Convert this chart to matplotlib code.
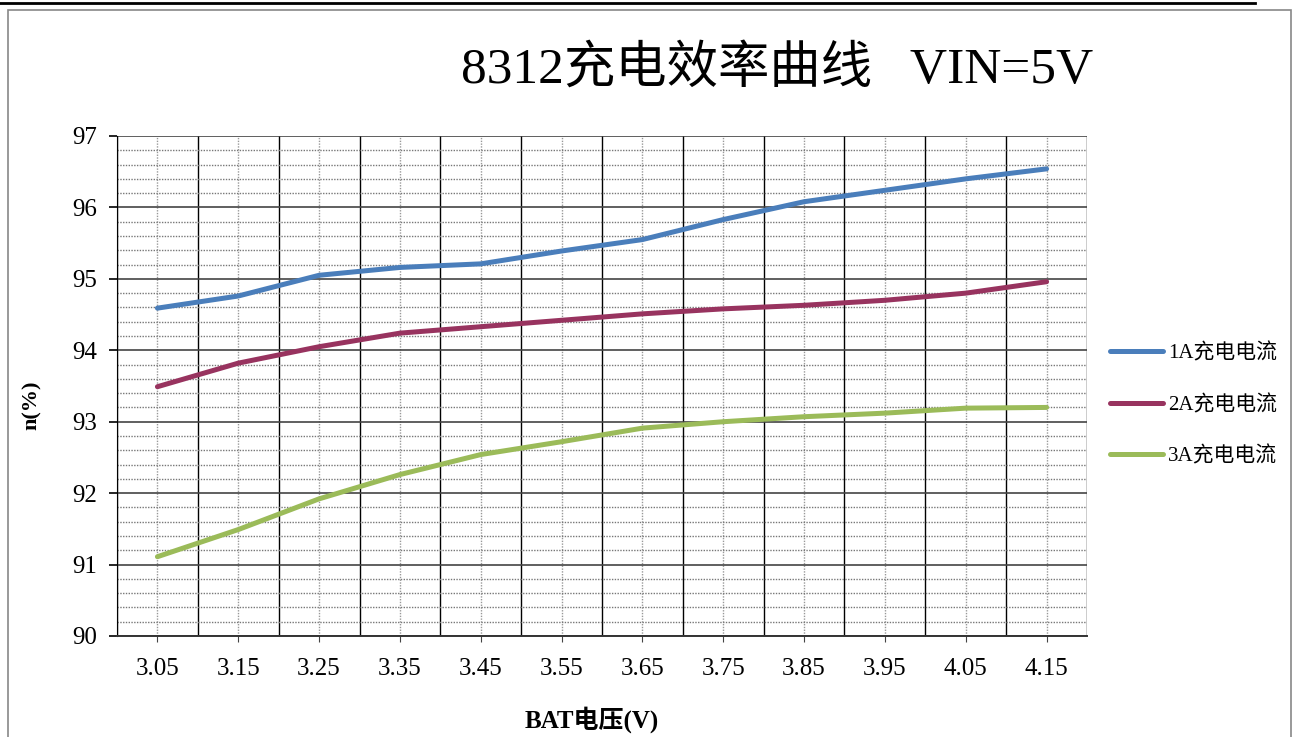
import numpy as np
import matplotlib.pyplot as plt
from matplotlib.ticker import MultipleLocator, FixedLocator
from matplotlib.lines import Line2D
from matplotlib.patches import Rectangle

# battery voltage categories (V)
bat_v = ["3.05", "3.15", "3.25", "3.35", "3.45", "3.55",
         "3.65", "3.75", "3.85", "3.95", "4.05", "4.15"]

# efficiency (%)
eff_1a = [94.59, 94.76, 95.05, 95.16, 95.21, 95.39, 95.55, 95.83, 96.08, 96.24, 96.40, 96.54]
eff_2a = [93.49, 93.82, 94.05, 94.24, 94.33, 94.42, 94.51, 94.58, 94.63, 94.70, 94.80, 94.96]
eff_3a = [91.11, 91.49, 91.92, 92.26, 92.54, 92.72, 92.91, 93.00, 93.07, 93.12, 93.19, 93.20]

series_names = ["1A充电电流", "2A充电电流", "3A充电电流"]
colors = ["#4A7EBB", "#98335F", "#9BBB59"]

FONT = ["Liberation Serif", "Noto Sans CJK SC", "DejaVu Sans"]
plt.rcParams['font.family'] = FONT

fig = plt.figure(figsize=(12.98, 7.37), dpi=100)
W, H = 1298, 737

# outer chart frame
fig.patches.append(Rectangle((8 / W, -0.1), (1291 - 8) / W, 1.1 - 10 / H,
                             transform=fig.transFigure, fill=False,
                             edgecolor="#888888", linewidth=1.2))
fig.lines.append(Line2D([0, 1255 / W], [1 - 3 / H, 1 - 3 / H],
                        transform=fig.transFigure, color="black", linewidth=2))

ax = fig.add_axes([117 / W, 1 - 636 / H, (1087 - 117) / W, (636 - 136) / H])

x = np.arange(len(bat_v))
for vals, name, c in zip([eff_1a, eff_2a, eff_3a], series_names, colors):
    ax.plot(x, vals, color=c, linewidth=3.6, label=name,
            solid_capstyle="round", solid_joinstyle="round", zorder=3)

ax.set_xlim(-0.5, len(bat_v) - 0.5)
ax.set_ylim(90, 97)

ax.set_xticks(x)
ax.set_xticklabels(bat_v, fontsize=18)
ax.xaxis.set_minor_locator(FixedLocator(np.arange(-0.5, len(bat_v), 1.0)))
ax.yaxis.set_major_locator(MultipleLocator(1))
ax.yaxis.set_minor_locator(MultipleLocator(0.2))
ax.tick_params(axis="y", which="major", labelsize=18, length=6, width=1.2, pad=8)
ax.tick_params(axis="y", which="minor", length=0)
ax.tick_params(axis="x", which="major", length=4, pad=12, color="#444444")
ax.tick_params(axis="x", which="minor", length=0)

ax.xaxis.grid(True, which="major", linestyle=(0, (1, 1)), color="#999999", linewidth=1)
ax.xaxis.grid(True, which="minor", linestyle="-", color="black", linewidth=1)
ax.yaxis.grid(True, which="major", linestyle="-", color="#444444", linewidth=1.2)
ax.yaxis.grid(True, which="minor", linestyle=(0, (1, 1)), color="#777777", linewidth=1)
ax.set_axisbelow(True)

for s in ["top", "right"]:
    ax.spines[s].set_visible(False)
ax.spines["left"].set_color("black")
ax.spines["bottom"].set_color("#333333")
ax.spines["bottom"].set_linewidth(1.4)

ax.set_ylabel("n(%)", fontsize=16, fontweight="bold", va="center")
ax.yaxis.set_label_coords((32 - 117) / 970, (636 - 405) / 500)
ax.set_xlabel("BAT电压(V)", fontsize=18, fontweight="bold", va="center")
ax.xaxis.set_label_coords((592 - 117) / 970, (636 - 720) / 500)

fig.text(777 / W, 1 - 70 / H, "8312充电效率曲线   VIN=5V", fontsize=37,
         ha="center", va="center")

ax.legend(loc="center left", bbox_to_anchor=((1110 - 117) / 970, (636 - 405) / 500),
          frameon=False, fontsize=15, handlelength=2.55, labelspacing=1.5,
          handletextpad=0.25, borderaxespad=0, borderpad=0)

fig.savefig("out.png", dpi=100)
